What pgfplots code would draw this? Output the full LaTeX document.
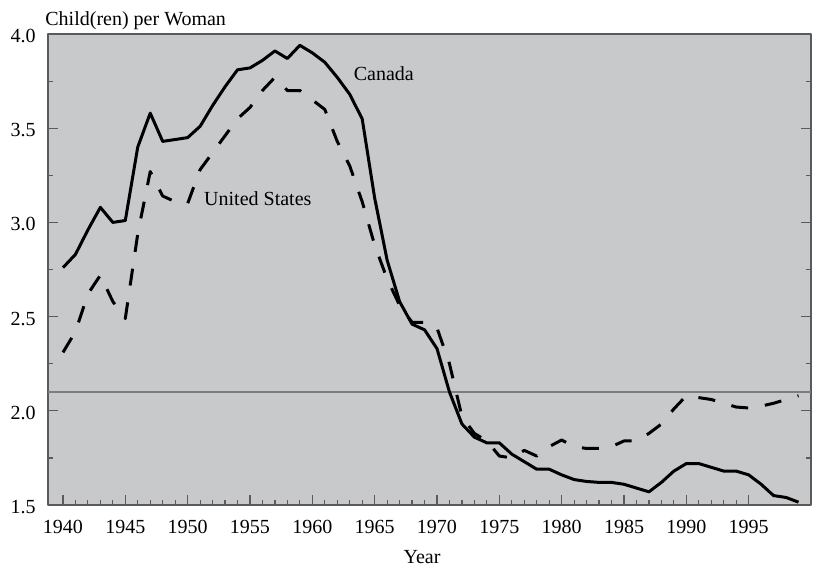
\documentclass[border=0pt]{standalone}
\usepackage{fontspec}
\setmainfont{Liberation Serif}
\usepackage{pgfplots}
\usepackage{pgfplotstable}
\pgfplotsset{compat=1.18}
\definecolor{bg}{RGB}{200,201,203}
\definecolor{frm}{RGB}{90,90,92}
\definecolor{refl}{RGB}{125,125,128}
\pgfplotstableread{
year tfr
1940 2.76
1941 2.83
1942 2.96
1943 3.08
1944 3.00
1945 3.01
1946 3.40
1947 3.58
1948 3.43
1949 3.44
1950 3.45
1951 3.51
1952 3.62
1953 3.72
1954 3.81
1955 3.82
1956 3.86
1957 3.91
1958 3.87
1959 3.94
1960 3.90
1961 3.85
1962 3.77
1963 3.68
1964 3.55
1965 3.13
1966 2.80
1967 2.58
1968 2.46
1969 2.43
1970 2.33
1971 2.10
1972 1.93
1973 1.86
1974 1.83
1975 1.83
1976 1.77
1977 1.73
1978 1.69
1979 1.69
1980 1.66
1981 1.635
1982 1.625
1983 1.62
1984 1.62
1985 1.61
1986 1.59
1987 1.57
1988 1.62
1989 1.68
1990 1.72
1991 1.72
1992 1.70
1993 1.68
1994 1.68
1995 1.66
1996 1.61
1997 1.55
1998 1.54
1999 1.515
}\canada
\pgfplotstableread{
year tfr
1940 2.31
1941 2.42
1942 2.62
1943 2.72
1944 2.58
1945 2.49
1946 2.94
1947 3.27
1948 3.14
1949 3.11
1950 3.10
1951 3.28
1952 3.37
1953 3.46
1954 3.55
1955 3.61
1956 3.70
1957 3.77
1958 3.70
1959 3.70
1960 3.65
1961 3.60
1962 3.43
1963 3.30
1964 3.11
1965 2.88
1966 2.70
1967 2.56
1968 2.47
1969 2.47
1970 2.44
1971 2.25
1972 1.97
1973 1.88
1974 1.84
1975 1.76
1976 1.75
1977 1.79
1978 1.76
1979 1.81
1980 1.845
1981 1.81
1982 1.80
1983 1.80
1984 1.81
1985 1.84
1986 1.84
1987 1.88
1988 1.93
1989 2.01
1990 2.08
1991 2.07
1992 2.06
1993 2.04
1994 2.02
1995 2.015
1996 2.025
1997 2.04
1998 2.06
1999 2.08
}\usa
\begin{document}
\begin{tikzpicture}
\begin{axis}[name=ax, at={(0,0)}, anchor=south west,
  scale only axis, width=381.5pt, height=235.5pt,
  xmin=1938.8, xmax=2000, ymin=1.5, ymax=4.0,
  axis background/.style={fill=bg},
  axis line style={frm, line width=0.8pt},
  xtick={1940,1945,1950,1955,1960,1965,1970,1975,1980,1985,1990,1995},
  minor x tick num=4,
  ytick={1.5,2,2.5,3,3.5,4}, minor y tick num=1,
  tick align=inside, xtick pos=bottom, ytick pos=both,
  major tick length=5pt, minor tick length=2.5pt,
  tick style={frm, line width=0.6pt},
  /pgf/number format/assume math mode=true,
  xticklabel style={/pgf/number format/1000 sep={}, yshift=-4.2pt},
  yticklabel style={/pgf/number format/.cd, fixed, fixed zerofill, precision=1, /tikz/.cd, xshift=-2.7pt, yshift=-1pt},
  line join=round,
]
\addplot[refl, line width=0.8pt] coordinates {(1938.8,2.1) (2000,2.1)};
\addplot[black, line width=1.5pt] table[x=year, y=tfr] {\canada};
\addplot[black, line width=1.5pt, dash pattern=on 8.5pt off 8.5pt] table[x=year, y=tfr] {\usa};
\node[anchor=west, inner sep=0pt] at (axis cs:1963.3,3.79) {Canada};
\node[anchor=west, inner sep=0pt] at (axis cs:1951.3,3.124) {United States};
\end{axis}
\node[anchor=base west, inner sep=0pt] at (-1.5pt,240pt) {Child(ren) per Woman};
\node[anchor=base, inner sep=0pt] at (187pt,-29pt) {Year};
\pgfresetboundingbox
\path (-24pt,-32pt) rectangle (385pt,252.5pt);
\end{tikzpicture}
\end{document}
